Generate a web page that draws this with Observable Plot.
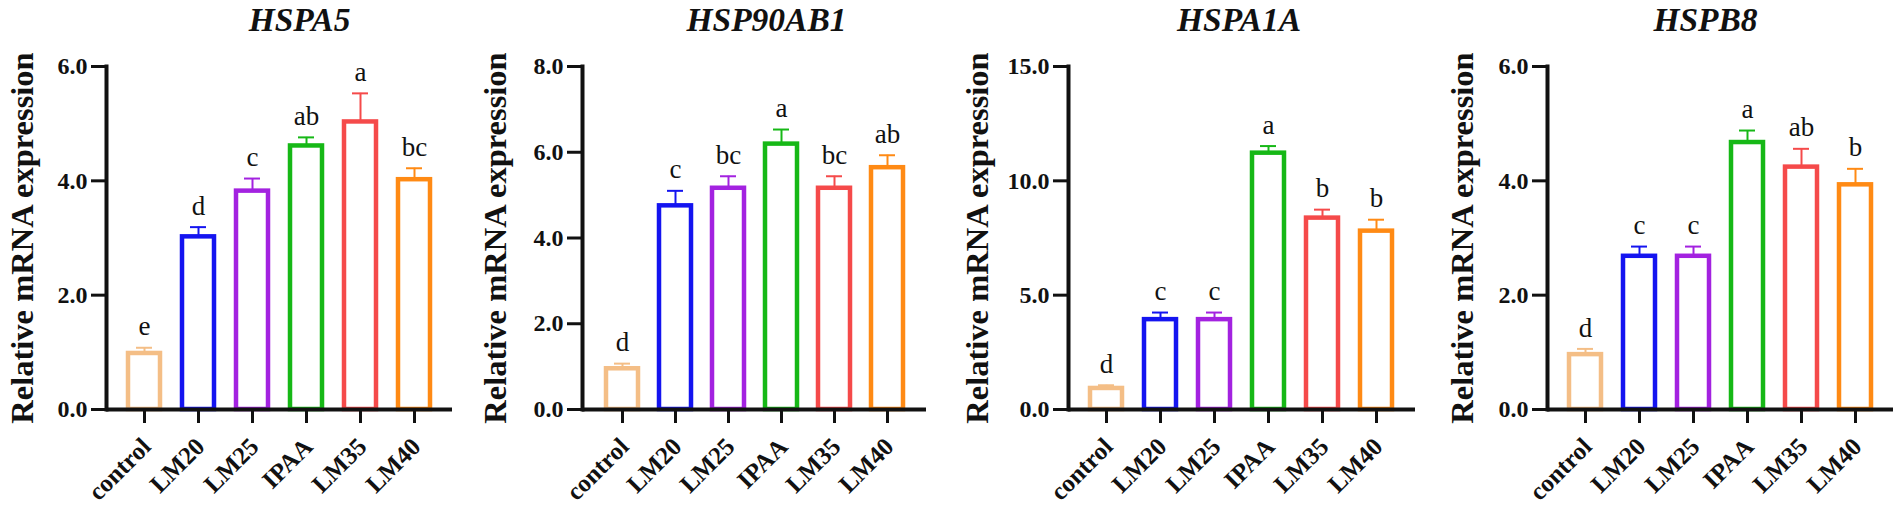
<!DOCTYPE html>
<html>
<head>
<meta charset="utf-8">
<script src="https://cdn.jsdelivr.net/npm/d3@7"></script>
<script src="https://cdn.jsdelivr.net/npm/@observablehq/plot@0.6"></script>
<style>
  html, body { margin: 0; padding: 0; background: #fff; }
  #row { display: flex; width: 1901px; height: 511px; }
  #row > div { flex: none; }
</style>
</head>
<body>
<div id="row"></div>
<script>
// ---- data ----
const groups = ["control", "LM20", "LM25", "IPAA", "LM35", "LM40"];
const colors = ["#f4be86", "#1414f0", "#a322e0", "#16b816", "#f54a4a", "#ff8a14"];
const yLabel = "Relative mRNA expression";

const genes = ["HSPA5", "HSP90AB1", "HSPA1A", "HSPB8"];

const hspa5Mean = [0.98, 3.02, 3.82, 4.61, 5.03, 4.02];
const hspa5Err = [0.10, 0.17, 0.22, 0.15, 0.50, 0.20];
const hspa5Letters = ["e", "d", "c", "ab", "a", "bc"];
const hspa5Ticks = [0, 2, 4, 6];

const hsp90ab1Mean = [0.95, 4.75, 5.16, 6.19, 5.16, 5.64];
const hsp90ab1Err = [0.12, 0.35, 0.28, 0.34, 0.28, 0.29];
const hsp90ab1Letters = ["d", "c", "bc", "a", "bc", "ab"];
const hsp90ab1Ticks = [0, 2, 4, 6, 8];

const hspa1aMean = [0.92, 3.93, 3.93, 11.21, 8.37, 7.80];
const hspa1aErr = [0.14, 0.31, 0.31, 0.31, 0.37, 0.50];
const hspa1aLetters = ["d", "c", "c", "a", "b", "b"];
const hspa1aTicks = [0, 5, 10, 15];

const hspb8Mean = [0.96, 2.68, 2.68, 4.67, 4.24, 3.93];
const hspb8Err = [0.10, 0.17, 0.17, 0.21, 0.32, 0.28];
const hspb8Letters = ["d", "c", "c", "a", "ab", "b"];
const hspb8Ticks = [0, 2, 4, 6];

const series = [
  [hspa5Mean, hspa5Err, hspa5Letters, hspa5Ticks],
  [hsp90ab1Mean, hsp90ab1Err, hsp90ab1Letters, hsp90ab1Ticks],
  [hspa1aMean, hspa1aErr, hspa1aLetters, hspa1aTicks],
  [hspb8Mean, hspb8Err, hspb8Letters, hspb8Ticks]
];

// ---- layout (per panel) ----
const layout = [
  {width: 470, ml: 106, mr: 18, labelDx: -84, titleDx: 20},
  {width: 480, ml: 112, mr: 24, labelDx: -87, titleDx: 12},
  {width: 470, ml: 118, mr: 5,  labelDx: -91, titleDx: -3},
  {width: 481, ml: 127, mr: 8,  labelDx: -85, titleDx: -15}
];

const font = "'Liberation Serif', 'Times New Roman', Times, serif";
const row = document.getElementById("row");

genes.forEach((gene, k) => {
  const [means, errs, letters, ticks] = series[k];
  const L = layout[k];
  const data = groups.map((g, i) => ({
    group: g, mean: means[i], top: means[i] + errs[i], letter: letters[i]
  }));
  const chart = Plot.plot({
    width: L.width,
    height: 511,
    marginLeft: L.ml,
    marginRight: L.mr,
    marginTop: 66,
    marginBottom: 102,
    style: {fontFamily: font, background: "#fff", overflow: "visible"},
    x: {domain: groups, padding: 0.4},
    y: {domain: [0, d3.max(ticks)]},
    color: {domain: groups, range: colors},
    marks: [
      Plot.barY(data, {x: "group", y: "mean", fill: "white", stroke: "group", strokeWidth: 4.5}),
      Plot.ruleX(data, {x: "group", y1: "mean", y2: "top", stroke: "group", strokeWidth: 2}),
      Plot.tickY(data, {x: "group", y: "top", stroke: "group", strokeWidth: 2, insetLeft: 8, insetRight: 8}),
      Plot.text(data, {x: "group", y: "top", text: "letter", dy: -21, fontSize: 27, fill: "#111"}),
      Plot.ruleY([0], {strokeWidth: 4, stroke: "#111"}),
      Plot.frame({anchor: "left", strokeWidth: 4, stroke: "#111"}),
      Plot.axisY({ticks: ticks, tickFormat: d3.format(".1f"), tickSize: 15, tickPadding: 4,
        strokeWidth: 3, stroke: "#111", fill: "#111", fontSize: 24, fontWeight: "bold", label: null}),
      Plot.axisX({tickSize: 14, tickFormat: () => "", strokeWidth: 3, stroke: "#111", label: null}),
      Plot.text(groups, {x: d => d, frameAnchor: "bottom", rotate: -45, textAnchor: "end",
        lineAnchor: "middle", dx: 2, dy: 33, fontSize: 25, fontWeight: "bold", fill: "#111"}),
      Plot.text([yLabel], {frameAnchor: "left", rotate: -90, textAnchor: "middle", lineAnchor: "middle",
        dx: L.labelDx, fontSize: 32.5, fontWeight: "bold", fill: "#111"}),
      Plot.text([gene], {frameAnchor: "top", textAnchor: "middle", lineAnchor: "middle", dy: -46,
        dx: L.titleDx, fontSize: 33.5, fontWeight: "bold", fontStyle: "italic", fill: "#111"})
    ]
  });
  const wrap = document.createElement("div");
  wrap.style.width = L.width + "px";
  wrap.appendChild(chart);
  row.appendChild(wrap);
});
</script>
</body>
</html>
